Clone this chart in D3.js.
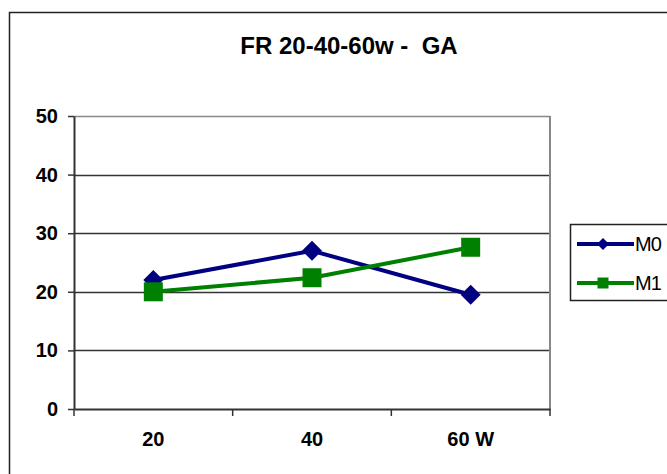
<!DOCTYPE html>
<html>
<head>
<meta charset="utf-8">
<script src="https://cdn.jsdelivr.net/npm/d3@7"></script>
<style>
  body { margin: 0; background: #fff; }
  text { font-family: Arial, "Liberation Sans", sans-serif; }
</style>
</head>
<body>
<div id="chart"></div>
<script>
// data
const categories = ["20", "40", "60 W"];
const seriesNames = ["M0", "M1"];
const m0Values = [22, 27, 19.5];
const m1Values = [20, 22.4, 27.6];
const yTicks = [0, 10, 20, 30, 40, 50];
const titleText = "FR 20-40-60w -  GA";

const colors = { M0: "#000080", M1: "#008000" };

const width = 667, height = 474;
const plot = { left: 74, right: 550, top: 116, bottom: 409 };

const svg = d3.select("#chart").append("svg")
    .attr("width", width)
    .attr("height", height);

svg.append("rect")
    .attr("width", width)
    .attr("height", height)
    .attr("fill", "#fff");

// outer chart border (runs off the picture on the right and bottom)
svg.append("rect")
    .attr("x", 9.5)
    .attr("y", 12.5)
    .attr("width", 720)
    .attr("height", 520)
    .attr("fill", "none")
    .attr("stroke", "#222")
    .attr("stroke-width", 1.5);

// title
svg.append("text")
    .attr("x", 349)
    .attr("y", 54)
    .attr("text-anchor", "middle")
    .style("white-space", "pre")
    .style("font-size", "24px")
    .style("font-weight", "bold")
    .text(titleText);

// scales
const x = d3.scaleBand()
    .domain(categories)
    .range([plot.left, plot.right])
    .padding(0);

const y = d3.scaleLinear()
    .domain([0, 50])
    .range([plot.bottom, plot.top]);

// gridlines
svg.append("g")
    .selectAll("line")
    .data(yTicks.filter(d => d > 0))
    .enter()
    .append("line")
    .attr("x1", plot.left)
    .attr("x2", plot.right)
    .attr("y1", d => Math.round(y(d)) + 0.5)
    .attr("y2", d => Math.round(y(d)) + 0.5)
    .attr("stroke", d => d === 50 ? "#888" : "#333")
    .attr("stroke-width", 1.5);

// right edge of plot area
svg.append("line")
    .attr("x1", plot.right)
    .attr("x2", plot.right)
    .attr("y1", plot.top)
    .attr("y2", plot.bottom)
    .attr("stroke", "#888")
    .attr("stroke-width", 2);

// y axis
const yAxis = d3.axisLeft(y)
    .tickValues(yTicks)
    .tickSizeInner(6)
    .tickSizeOuter(0)
    .tickPadding(10);

const gy = svg.append("g")
    .attr("transform", "translate(" + plot.left + ",0)")
    .call(yAxis);
gy.select(".domain").attr("stroke", "#333").attr("stroke-width", 2);
gy.selectAll(".tick line").attr("stroke", "#333").attr("stroke-width", 1.5);
gy.selectAll("text")
    .style("font-size", "20px")
    .style("font-weight", "bold")
    .attr("fill", "#000");

// x axis (ticks between categories)
const xAxis = d3.axisBottom(x)
    .tickSize(0)
    .tickPadding(23);

const gx = svg.append("g")
    .attr("transform", "translate(0," + plot.bottom + ")")
    .call(xAxis);
gx.select(".domain").attr("stroke", "#333").attr("stroke-width", 2);
gx.selectAll("text")
    .style("font-size", "20px")
    .style("font-weight", "bold")
    .attr("fill", "#000");

const boundaries = categories.map(c => x(c)).concat([x(categories[categories.length - 1]) + x.bandwidth()]);
gx.selectAll(".sep")
    .data(boundaries)
    .enter()
    .append("line")
    .attr("class", "sep")
    .attr("x1", d => d)
    .attr("x2", d => d)
    .attr("y1", 0)
    .attr("y2", 7)
    .attr("stroke", "#333")
    .attr("stroke-width", 1.5);

// markers
function diamond(r) {
    return "M0," + (-r) + "L" + r + ",0L0," + r + "L" + (-r) + ",0Z";
}
function square(r) {
    return "M" + (-r) + "," + (-r) + "H" + r + "V" + r + "H" + (-r) + "Z";
}

const line = d3.line()
    .x(d => x(d.cat) + x.bandwidth() / 2)
    .y(d => y(d.value));

const series = [
    { name: "M0", values: m0Values, shape: diamond, size: 10 },
    { name: "M1", values: m1Values, shape: square, size: 9.5 }
];

series.forEach(s => {
    const pts = categories.map((c, i) => ({ cat: c, value: s.values[i] }));
    const g = svg.append("g");
    g.append("path")
        .datum(pts)
        .attr("d", line)
        .attr("fill", "none")
        .attr("stroke", colors[s.name])
        .attr("stroke-width", 4);
    g.selectAll(".marker")
        .data(pts)
        .enter()
        .append("path")
        .attr("class", "marker")
        .attr("transform", d => "translate(" + (x(d.cat) + x.bandwidth() / 2) + "," + y(d.value) + ")")
        .attr("d", s.shape(s.size))
        .attr("fill", colors[s.name]);
});

// legend
const legend = svg.append("g");
legend.append("rect")
    .attr("x", 570.5)
    .attr("y", 224.5)
    .attr("width", 120)
    .attr("height", 76)
    .attr("fill", "#fff")
    .attr("stroke", "#222")
    .attr("stroke-width", 1.5);

const legendRows = [
    { name: "M0", shape: diamond, size: 6, y: 244 },
    { name: "M1", shape: square, size: 5.5, y: 283 }
];

legendRows.forEach(r => {
    legend.append("line")
        .attr("x1", 577)
        .attr("x2", 634)
        .attr("y1", r.y)
        .attr("y2", r.y)
        .attr("stroke", colors[r.name])
        .attr("stroke-width", 4);
    legend.append("path")
        .attr("transform", "translate(603," + r.y + ")")
        .attr("d", r.shape(r.size))
        .attr("fill", colors[r.name]);
    legend.append("text")
        .attr("x", 635)
        .attr("y", r.y + 7)
        .style("font-size", "20px")
        .style("letter-spacing", "-1px")
        .text(r.name);
});
</script>
</body>
</html>
